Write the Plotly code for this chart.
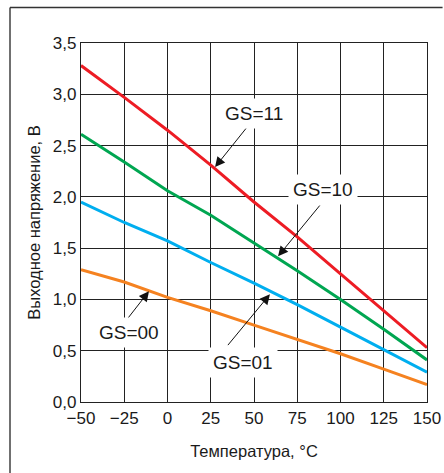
import plotly.graph_objects as go

# Data
temperature = [-50, -25, 0, 25, 50, 75, 100, 125, 150]
gs11 = [3.28, 2.97, 2.65, 2.31, 1.95, 1.61, 1.25, 0.89, 0.53]
gs10 = [2.61, 2.34, 2.06, 1.82, 1.55, 1.28, 1.00, 0.71, 0.41]
gs01 = [1.95, 1.75, 1.57, 1.36, 1.16, 0.95, 0.73, 0.51, 0.29]
gs00 = [1.29, 1.17, 1.02, 0.89, 0.75, 0.61, 0.47, 0.32, 0.17]

x_tickvals = [-50, -25, 0, 25, 50, 75, 100, 125, 150]
x_ticktext = ["\u221250", "\u221225", "0", "25", "50", "75", "100", "125", "150"]
y_tickvals = [0, 0.5, 1.0, 1.5, 2.0, 2.5, 3.0, 3.5]
y_ticktext = ["0,0", "0,5", "1,0", "1,5", "2,0", "2,5", "3,0", "3,5"]

series = [
    ("GS=11", gs11, "#ed1c24"),
    ("GS=10", gs10, "#00a651"),
    ("GS=01", gs01, "#00aeef"),
    ("GS=00", gs00, "#f58220"),
]

FONT = "Liberation Sans, Arial, sans-serif"
GRID = "#222222"
TXT = "#1a1a1a"

fig = go.Figure()
for name, vals, col in series:
    fig.add_trace(go.Scatter(x=temperature, y=vals, mode="lines", name=name,
                             line=dict(color=col, width=3), showlegend=False,
                             hoverinfo="skip"))

# label boxes (text center) and arrows (tail -> tip), in data coordinates
labels = [
    ("GS=11", 50.0, 2.81),
    ("GS=10", 89.9, 2.07),
    ("GS=01", 43.6, 0.39),
    ("GS=00", -22.3, 0.68),
]
arrows = [
    (46.0, 2.68, 27.5, 2.29),
    (88.7, 1.93, 63.9, 1.42),
    (34.2, 0.54, 59.2, 1.05),
    (-23.2, 0.81, -10.7, 1.08),
]

annotations = []
for txt, xx, yy in labels:
    annotations.append(dict(x=xx, y=yy, xref="x", yref="y", text=txt, showarrow=False,
                            font=dict(family=FONT, size=19, color=TXT),
                            bgcolor="white", borderpad=4, xanchor="center", yanchor="middle"))
for x0, y0, x1, y1 in arrows:
    annotations.append(dict(x=x1, y=y1, ax=x0, ay=y0, xref="x", yref="y", axref="x", ayref="y",
                            text="", showarrow=True, arrowhead=2, arrowsize=2,
                            arrowwidth=1, arrowcolor="#111111", standoff=0, startstandoff=0))

axis_common = dict(showgrid=True, gridcolor=GRID, gridwidth=1.3, showline=True,
                   linecolor=GRID, linewidth=1.3, mirror=True, zeroline=False,
                   automargin=False, ticks="",
                   tickfont=dict(family=FONT, size=17, color=TXT))

fig.update_layout(
    width=444, height=473,
    margin=dict(l=81, r=17, t=43, b=71),
    paper_bgcolor="white", plot_bgcolor="white",
    xaxis=dict(range=[-50, 150], tickvals=x_tickvals, ticktext=x_ticktext,
               title=dict(text="Температура, °C", font=dict(family=FONT, size=16.5, color=TXT),
                          standoff=18),
               **axis_common),
    yaxis=dict(range=[0, 3.5], tickvals=y_tickvals, ticktext=y_ticktext,
               title=dict(text="Выходное напряжение, В", font=dict(family=FONT, size=16.5, color=TXT),
                          standoff=8),
               **axis_common),
    annotations=annotations,
    shapes=[
        dict(type="line", xref="paper", yref="paper", x0=-0.2052, x1=1.045, y0=1.099, y1=1.099,
             line=dict(color="#333333", width=1.4)),
        dict(type="line", xref="paper", yref="paper", x0=-0.2052, x1=-0.2052, y0=1.099, y1=-0.21,
             line=dict(color="#333333", width=1.4)),
    ],
)

fig.write_html(
    "out.html",
    config={"displayModeBar": False},
    post_script="document.body.style.margin='0';document.body.style.overflow='hidden';",
)
